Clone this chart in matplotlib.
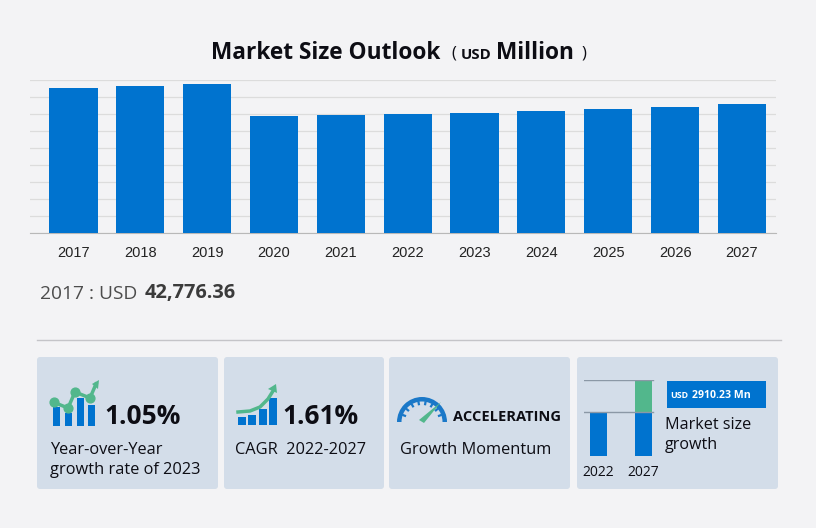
"""Market size outlook card: yearly bars plus four KPI tiles."""

import math

import matplotlib

matplotlib.use("Agg")
from matplotlib import pyplot as plt  # noqa: E402
from matplotlib.patches import FancyBboxPatch, Polygon, Rectangle, Wedge  # noqa: E402

YEARS = ["2017", "2018", "2019", "2020", "2021", "2022", "2023", "2024", "2025", "2026", "2027"]
MARKET_SIZE = [42776.36, 43235, 43680, 34400, 34700, 35000, 35368, 35900, 36350, 37000, 37910]
Y_TICKS = [0, 5000, 10000, 15000, 20000, 25000, 30000, 35000, 40000, 45000]

MINI_YEARS = ["2022", "2027"]
MINI_BASE = [35000, 35000]
MINI_GROWTH = [0, 25000]

ICON1_BARS = [19, 13, 28, 21]
ICON2_BARS = [8, 10, 16, 27]

BLUE = "#0073cf"
GREEN = "#52b78c"
BACKGROUND = "#f3f3f5"
CARD = "#d3dde9"
INK = "#0d0d14"
W, H = 816, 528


def axes_px(fig, left, top, right, bottom):
    return fig.add_axes([left / W, 1 - bottom / H, (right - left) / W, (bottom - top) / H])


def draw_main_chart(fig):
    ax = axes_px(fig, 30, 80, 776, 233)
    ax.set_facecolor("none")
    ax.bar(range(len(YEARS)), MARKET_SIZE, width=0.72, color=BLUE, zorder=3)
    ax.set_xlim(-0.65, 10.51)
    ax.set_ylim(0, 45000)
    ax.set_yticks(Y_TICKS)
    ax.set_xticks(range(len(YEARS)), YEARS, fontsize=10.5, family="Liberation Sans", color="#222222")
    ax.tick_params(axis="y", left=False, labelleft=False)
    ax.tick_params(axis="x", bottom=False, pad=6)
    ax.grid(True, axis="y", color="#dcdcdc", linewidth=0.9, zorder=0)
    for side in ("top", "left", "right"):
        ax.spines[side].set_visible(False)
    ax.spines["bottom"].set_color("#b8b8b8")


def draw_mini_chart(fig):
    ax = axes_px(fig, 584, 380, 666, 456)
    ax.set_facecolor("none")
    ax.bar([0, 1], MINI_BASE, width=0.38, color=BLUE, zorder=3)
    ax.bar([0, 1], MINI_GROWTH, bottom=MINI_BASE, width=0.38, color=GREEN, zorder=3)
    ax.set_xlim(-0.322, 1.5)
    ax.set_ylim(0, 60000)
    ax.axhline(60000, xmax=0.84, color="#8b98a6", linewidth=1, zorder=4)
    ax.axhline(35000, xmax=0.84, color="#8b98a6", linewidth=1, zorder=4)
    ax.set_xticks([0, 1], MINI_YEARS, fontsize=10, family="Open Sans", color=INK)
    ax.set_yticks([])
    ax.tick_params(axis="x", bottom=False, pad=3)
    for spine in ax.spines.values():
        spine.set_visible(False)


def draw_icon_bars(ov, values, lefts, width, base):
    for left, value in zip(lefts, values):
        ov.add_patch(Rectangle((left, base - value), width, value, color=BLUE, lw=0))


def draw_gauge(ov, cx, cy):
    ov.add_patch(Wedge((cx, cy), 25, 180, 360, width=4.5, color="#1a78c8", lw=0))
    for angle in [160, 140, 120, 100, 80, 60, 40, 20]:
        rad = math.radians(angle)
        ov.plot([cx + 17 * math.cos(rad), cx + 21 * math.cos(rad)],
                [cy - 17 * math.sin(rad), cy - 21 * math.sin(rad)],
                color="#1a78c8", lw=1.6, solid_capstyle="butt")
    ov.add_patch(Polygon([(cx - 3, cy - 2), (cx + 2, cy + 1), (cx + 19, cy - 20)],
                         color=GREEN, lw=0))


def draw_overlay(ov):
    ov.set_xlim(0, W)
    ov.set_ylim(H, 0)
    ov.axis("off")
    ov.patch.set_alpha(0)

    ov.text(325.5, 53, "Market Size Outlook", ha="center", va="center", fontsize=16.3,
            fontweight="bold", family="Open Sans", color=INK)
    ov.text(454, 53, "(", ha="center", va="center", fontsize=12, family="Open Sans", color=INK)
    ov.text(476, 55, "USD", ha="center", va="center", fontsize=10.8, fontweight="bold",
            family="Open Sans", color=INK)
    ov.text(534.5, 53, "Million", ha="center", va="center", fontsize=16.3, fontweight="bold",
            family="Open Sans", color=INK)
    ov.text(584, 53, ")", ha="center", va="center", fontsize=12, family="Open Sans", color=INK)

    ov.text(40, 294, "2017 : USD", ha="left", va="center", fontsize=13.8, family="Open Sans",
            color="#4c4c4c")
    ov.text(145, 293, "42,776.36", ha="left", va="center", fontsize=14.4, fontweight="bold",
            family="Open Sans", color="#3b3b3b")

    ov.plot([37, 781], [340, 340], color="#c4c4c8", lw=1)

    for left, right in [(37, 218), (224, 384), (389, 570), (577, 778)]:
        ov.add_patch(FancyBboxPatch((left + 3, 360), right - left - 6, 126,
                                    boxstyle="round,pad=3", fc=CARD, ec="none"))

    # tile 1
    draw_icon_bars(ov, ICON1_BARS, [53, 65, 77, 88], 7, 426)
    ov.plot([53, 68, 75, 90, 96], [402, 408, 392, 398, 384], color=GREEN, lw=2.5)
    ov.scatter([54, 68, 75, 90], [402, 408, 392, 398], s=40, color=GREEN, zorder=4)
    ov.add_patch(Polygon([(92, 384), (99, 380), (98, 389)], color=GREEN, lw=0))
    ov.text(104, 417, "1.05%", ha="left", va="center", fontsize=19, fontweight="bold",
            family="Open Sans", color=INK)
    ov.text(50, 450.5, "Year-over-Year", ha="left", va="center", fontsize=11.8,
            family="Open Sans", color=INK)
    ov.text(50, 470.5, "growth rate of 2023", ha="left", va="center", fontsize=11.8,
            family="Open Sans", color=INK)

    # tile 2
    draw_icon_bars(ov, ICON2_BARS, [238, 248, 259, 269], 8, 425)
    ov.plot([238, 250, 260, 268, 273], [412, 411, 407, 399, 391], color=GREEN, lw=2.5)
    ov.add_patch(Polygon([(268, 389), (276, 384), (277, 393)], color=GREEN, lw=0))
    ov.text(282.5, 417, "1.61%", ha="left", va="center", fontsize=19, fontweight="bold",
            family="Open Sans", color=INK)
    ov.text(235, 450.5, "CAGR  2022-2027", ha="left", va="center", fontsize=11.8,
            family="Open Sans", color=INK)

    # tile 3
    draw_gauge(ov, 422, 422)
    ov.text(453, 417, "ACCELERATING", ha="left", va="center", fontsize=10.5, fontweight="bold",
            family="Open Sans", color=INK)
    ov.text(400, 450.5, "Growth Momentum", ha="left", va="center", fontsize=11.8,
            family="Open Sans", color=INK)

    # tile 4
    ov.add_patch(Rectangle((667, 381), 99, 27, color=BLUE, lw=0))
    ov.text(670, 396, "USD", ha="left", va="center", fontsize=6.4, fontweight="bold",
            family="Open Sans", color="white")
    ov.text(692, 396, "2910.23 Mn", ha="left", va="center", fontsize=7.6, fontweight="bold",
            family="Open Sans", color="white")
    ov.text(665, 425, "Market size", ha="left", va="center", fontsize=11.6,
            family="Open Sans", color=INK)
    ov.text(665, 445, "growth", ha="left", va="center", fontsize=11.6,
            family="Open Sans", color=INK)


def main():
    fig = plt.figure(figsize=(W / 100, H / 100), dpi=100, facecolor=BACKGROUND)
    overlay = fig.add_axes([0, 0, 1, 1])
    draw_overlay(overlay)
    draw_main_chart(fig)
    draw_mini_chart(fig)
    fig.savefig("out.png", dpi=100, facecolor=BACKGROUND)
    plt.close(fig)


if __name__ == "__main__":
    main()
